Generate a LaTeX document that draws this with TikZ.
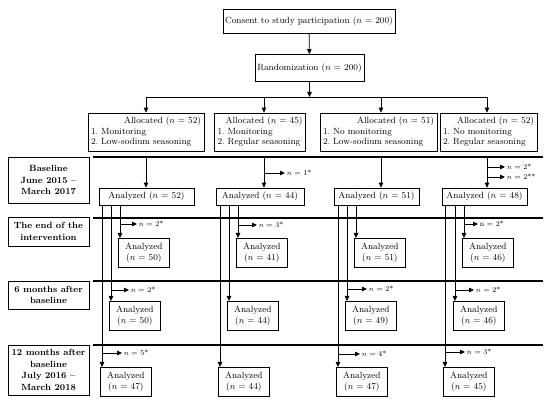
\documentclass[tikz,border=0pt]{standalone}
\usepackage{tikz}
\usetikzlibrary{arrows.meta}

\tikzset{
  stagebox/.style={draw, line width=0.7pt, font=\fontsize{9}{10.5}\selectfont, inner sep=1pt},
  allocbox/.style={draw, line width=0.7pt, font=\fontsize{9}{10.5}\selectfont, align=left, inner xsep=3pt, inner ysep=2pt, minimum height=38pt},
  periodbox/.style={draw, line width=0.7pt, font=\fontsize{9}{11.5}\selectfont\bfseries, align=center, minimum width=81pt, inner sep=1pt},
  anbox/.style={draw, line width=0.7pt, font=\fontsize{9}{10.5}\selectfont, minimum height=17pt, inner sep=1pt},
  subbox/.style={draw, line width=0.7pt, font=\fontsize{9}{10.5}\selectfont, align=center, minimum width=51pt, minimum height=29pt, inner sep=1pt, anchor=north west},
  dropnote/.style={font=\fontsize{7.5}{9}\selectfont, anchor=west, inner sep=1.5pt},
  phaseline/.style={line width=2.6pt},
  arr/.style={-{Triangle[length=5pt,width=4.5pt]}, line width=0.8pt}
}

\begin{document}
\frenchspacing
\begin{tikzpicture}[x=1pt, y=-1pt, line width=0.8pt]
        \useasboundingbox (0,0) rectangle (550,403);

        % Enrolment
        \node[stagebox, minimum width=172pt, minimum height=24pt] (consent) at (309,21) {Consent to study participation ($n$ = 200)};
        \node[stagebox, minimum width=109pt, minimum height=27pt] (rand) at (309.5,68) {Randomization ($n$ = 200)};

        % Allocation
        \coordinate (split) at (309.5,97);
        \coordinate (c1) at (146,97);
        \coordinate (c2) at (264,97);
        \coordinate (c3) at (381,97);
        \coordinate (c4) at (487,97);
        \node[allocbox, text width=110pt] (a1) at (146,132) {\hspace*{\fill}Allocated ($n$ = 52)\hspace*{\fill}\\1. Monitoring\\2. Low-sodium seasoning};
        \node[allocbox, text width=85pt] (a2) at (260,132) {\hspace*{\fill}Allocated ($n$ = 45)\hspace*{\fill}\\1. Monitoring\\2. Regular seasoning};
        \node[allocbox, text width=111pt] (a3) at (378.5,132) {\hspace*{\fill}Allocated ($n$ = 51)\hspace*{\fill}\\1. No monitoring\\2. Low-sodium seasoning};
        \node[allocbox, text width=91pt] (a4) at (488.5,132) {\hspace*{\fill}Allocated ($n$ = 52)\hspace*{\fill}\\1. No monitoring\\2. Regular seasoning};

        % Time points
        \node[periodbox, minimum height=46pt] (base) at (48.5,180) {Baseline\\June 2015 --\\March 2017};
        \node[periodbox, minimum height=29pt] (endint) at (48.5,231.5) {The end of the\\intervention};
        \node[periodbox, minimum height=28pt] (m6) at (48.5,295) {6 months after\\baseline};
        \node[periodbox, minimum height=50pt] (m12) at (48.5,370) {12 months after\\baseline\\July 2016 --\\March 2018};

        % Phase lines
        \coordinate (r1) at (93,157);
        \coordinate (r2) at (93,218);
        \coordinate (r3) at (93,281);
        \coordinate (r4) at (93,345);
        \draw[phaseline] (r1) -- ++(450,0);
        \draw[phaseline] (r2) -- ++(450,0);
        \draw[phaseline] (r3) -- ++(450,0);
        \draw[phaseline] (r4) -- ++(450,0);

        % Baseline
        \node[anbox, minimum width=95pt] (b1) at (146.5,196.5) {Analyzed ($n$ = 52)};
        \node[anbox, minimum width=88pt] (b2) at (260,196.5) {Analyzed ($n$ = 44)};
        \node[anbox, minimum width=85pt] (b3) at (376.5,196.5) {Analyzed ($n$ = 51)};
        \node[anbox, minimum width=85pt] (b4) at (484.5,196.5) {Analyzed ($n$ = 48)};
        \node[dropnote] (d2b) at (285,173) {$n$ = 1*};
        \node[dropnote] (d4b) at (505,167) {$n$ = 2*};
        \node[dropnote] (d4bb) at (505,177) {$n$ = 2**};

        % End of the intervention
        \node[subbox] (e1) at (118,238) {Analyzed\\($n$ = 50)};
        \node[subbox] (e2) at (236,238) {Analyzed\\($n$ = 41)};
        \node[subbox] (e3) at (354,238) {Analyzed\\($n$ = 51)};
        \node[subbox] (e4) at (462,238) {Analyzed\\($n$ = 46)};
        \node[dropnote] (d1e) at (137,224) {$n$ = 2*};
        \node[dropnote] (d2e) at (257,225) {$n$ = 3*};
        \node[dropnote] (d4e) at (478,224) {n = 2*};

        % 6 months
        \node[subbox] (s1) at (109,301) {Analyzed\\($n$ = 50)};
        \node[subbox] (s2) at (227,301) {Analyzed\\($n$ = 44)};
        \node[subbox] (s3) at (345,301) {Analyzed\\($n$ = 49)};
        \node[subbox] (s4) at (453,301) {Analyzed\\($n$ = 46)};
        \node[dropnote] (d1s) at (129,290) {$n$ = 2*};
        \node[dropnote] (d3s) at (367,289) {$n$ = 2*};
        \node[dropnote] (d4s) at (474,290) {$n$ = 2*};

        % 12 months
        \node[subbox] (t1) at (100,367) {Analyzed\\($n$ = 47)};
        \node[subbox] (t2) at (218,367) {Analyzed\\($n$ = 44)};
        \node[subbox] (t3) at (336,367) {Analyzed\\($n$ = 47)};
        \node[subbox] (t4) at (443,367) {Analyzed\\($n$ = 45)};
        \node[dropnote] (d1t) at (122,353) {$n$ = 5*};
        \node[dropnote] (d3t) at (360,354) {$n$ = 4*};
        \node[dropnote] (d4t) at (465,352) {$n$ = 3*};

        % Arrow landing points
        \coordinate (v1e) at ([xshift=2pt]e1.north west);
        \coordinate (v2e) at ([xshift=2pt]e2.north west);
        \coordinate (v3e) at ([xshift=2pt]e3.north west);
        \coordinate (v4e) at ([xshift=2pt]e4.north west);
        \coordinate (v1s) at ([xshift=2pt]s1.north west);
        \coordinate (v2s) at ([xshift=2pt]s2.north west);
        \coordinate (v3s) at ([xshift=2pt]s3.north west);
        \coordinate (v4s) at ([xshift=2pt]s4.north west);
        \coordinate (v1t) at ([xshift=2pt]t1.north west);
        \coordinate (v2t) at ([xshift=2pt]t2.north west);
        \coordinate (v3t) at ([xshift=2pt]t3.north west);
        \coordinate (v4t) at ([xshift=2pt]t4.north west);

        % Arrows
        \draw[arr] (consent) -- (rand);
        \draw[arr] (rand) -- (split);
        \draw (c1) -- (c4);
        \draw[arr] (c1) -- (c1 |- a1.north);
        \draw[arr] (c2) -- (c2 |- a2.north);
        \draw[arr] (c3) -- (c3 |- a3.north);
        \draw[arr] (c4) -- (c4 |- a4.north);
        \draw[arr] (c1 |- r1) -- (c1 |- b1.north);
        \draw[arr] (c2 |- r1) -- (c2 |- b2.north);
        \draw[arr] (c3 |- r1) -- (c3 |- b3.north);
        \draw[arr] (c4 |- r1) -- (c4 |- b4.north);
        \draw[arr] (c2 |- d2b.west) -- (d2b.west);
        \draw[arr] (c4 |- d4b.west) -- (d4b.west);
        \draw[arr] (c4 |- d4bb.west) -- (d4bb.west);

        \draw[arr] (v1e |- b1.south) -- (v1e);
        \draw[arr] (v2e |- b2.south) -- (v2e);
        \draw[arr] (v3e |- b3.south) -- (v3e);
        \draw[arr] (v4e |- b4.south) -- (v4e);
        \draw[arr] (v1s |- b1.south) -- (v1s);
        \draw[arr] (v2s |- b2.south) -- (v2s);
        \draw[arr] (v3s |- b3.south) -- (v3s);
        \draw[arr] (v4s |- b4.south) -- (v4s);
        \draw[arr] (v1t |- b1.south) -- (v1t);
        \draw[arr] (v2t |- b2.south) -- (v2t);
        \draw[arr] (v3t |- b3.south) -- (v3t);
        \draw[arr] (v4t |- b4.south) -- (v4t);

        \draw[arr] (v1e |- d1e.west) -- (d1e.west);
        \draw[arr] (v2e |- d2e.west) -- (d2e.west);
        \draw[arr] (v4e |- d4e.west) -- (d4e.west);
        \draw[arr] (v1s |- d1s.west) -- (d1s.west);
        \draw[arr] (v3s |- d3s.west) -- (d3s.west);
        \draw[arr] (v4s |- d4s.west) -- (d4s.west);
        \draw[arr] (v1t |- d1t.west) -- (d1t.west);
        \draw[arr] (v3t |- d3t.west) -- (d3t.west);
        \draw[arr] (v4t |- d4t.west) -- (d4t.west);
    \end{tikzpicture}
\end{document}
